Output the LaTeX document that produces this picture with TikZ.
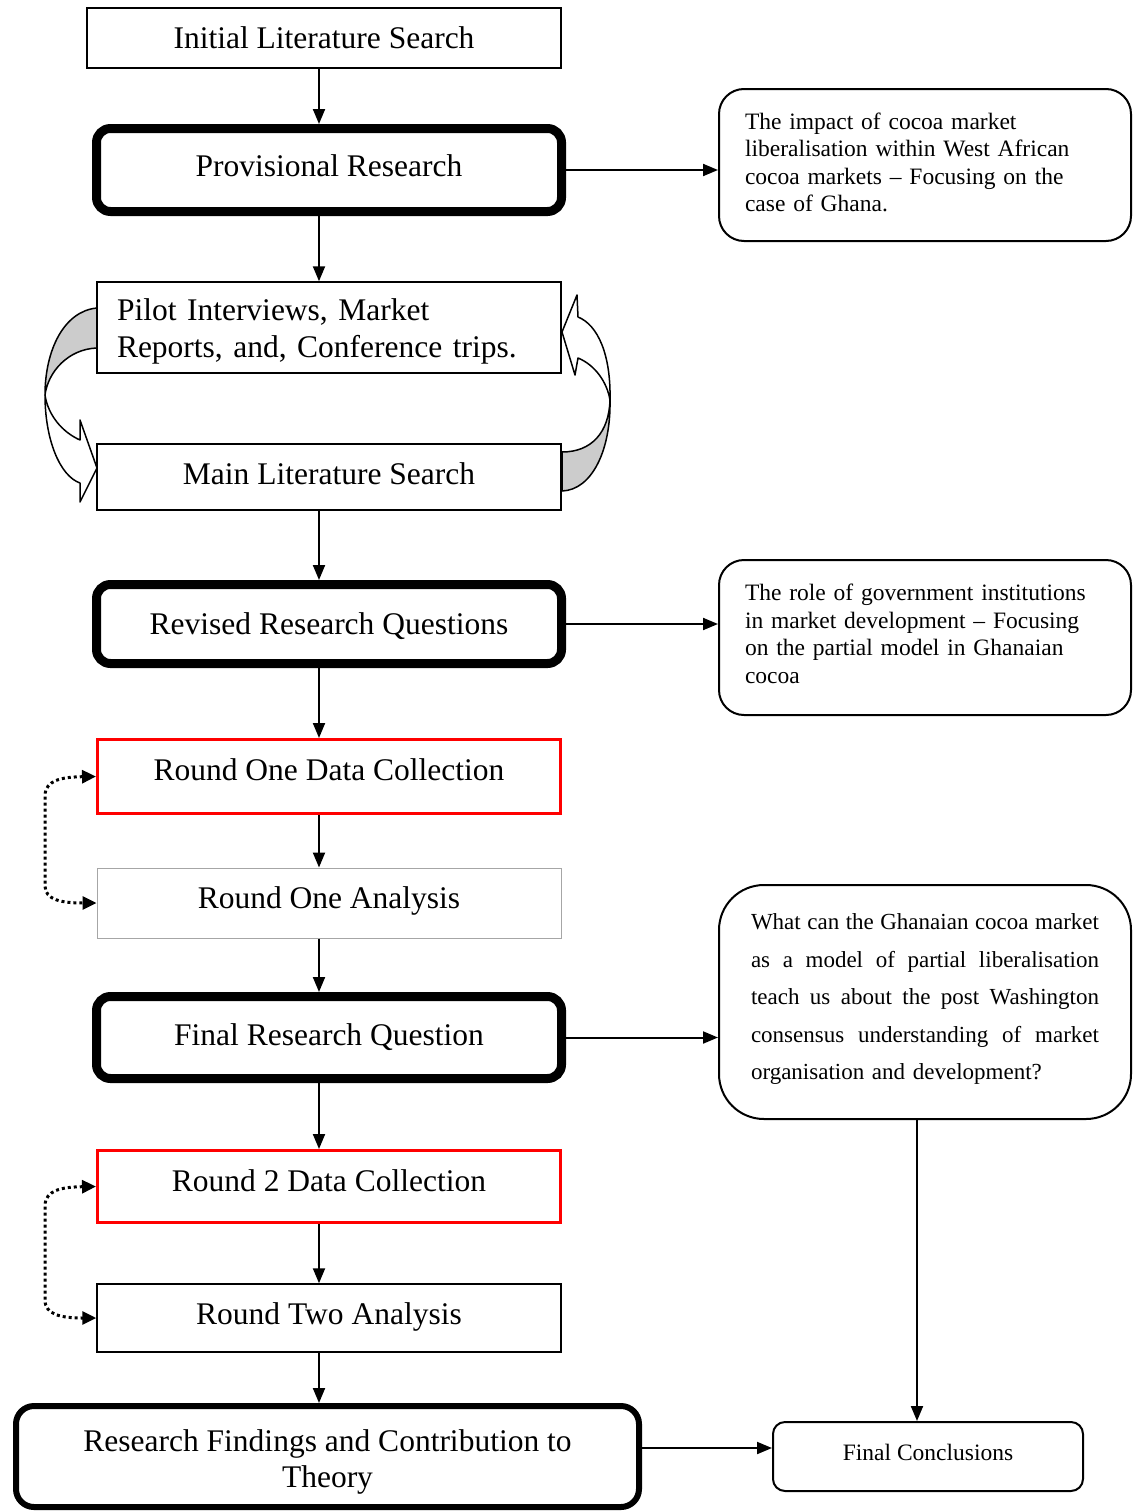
\documentclass[tikz,border=0pt]{standalone}
\usepackage{fontspec}
\setmainfont{Liberation Serif}
\usetikzlibrary{arrows.meta}
% one line of text spread over the full width of a justified block
\newcommand\spreadline[1]{\makebox[348pt][l]{#1}}
\begin{document}
\begin{tikzpicture}[x=1pt,y=-1pt,
  arr/.style={line width=2pt,-{Triangle[length=15pt,width=12pt]}},
  dotarr/.style={line width=3pt,dash pattern=on 3pt off 3pt,
    {Triangle[length=14pt,width=13pt]}-{Triangle[length=14pt,width=13pt]}},
  bigtext/.style={font=\fontsize{31.5}{36}\selectfont,text height=22pt},
  plainbox/.style={draw,line width=1.5pt,inner sep=0pt,bigtext,minimum width=464pt},
  heavybox/.style={draw,line width=9pt,rounded corners=14pt,inner sep=0pt,bigtext,minimum width=465pt},
  redbox/.style={draw=red,line width=3pt,inner sep=0pt,bigtext,minimum width=463pt},
  callout/.style={draw,line width=2pt,rounded corners=25pt,inner sep=0pt,
    font=\fontsize{23.5}{27.5}\selectfont,align=left,minimum width=412pt},
  band/.style={draw,line width=1.5pt,line join=round}
]
\useasboundingbox (0,0) rectangle (1141,1512);

% column of the vertical connectors and the lower right connectors
\coordinate (ax) at (319,0);
\coordinate (fx) at (917,0);
\coordinate (ry) at (0,1448);

% curved block arrows between pilot work and the main literature search
\filldraw[band,fill=gray!40] (97,308) .. controls (64,311) and (45,350) .. (45,395)
  .. controls (48,372) and (68,349) .. (97,348) -- cycle;
\filldraw[band,fill=white] (45,395) .. controls (45,440) and (60,476) .. (80,483)
  -- (80,502) -- (97,468) -- (80,420) -- (80,440)
  .. controls (62,432) and (48,415) .. (45,395) -- cycle;
\filldraw[band,fill=gray!40] (562,452) .. controls (592,452) and (609,432) .. (610,400)
  .. controls (611,450) and (592,490) .. (562,491) -- cycle;
\filldraw[band,fill=white] (610,400) .. controls (611,355) and (598,325) .. (578,317)
  -- (577,295) -- (562,332) -- (575,375) -- (578,358)
  .. controls (595,365) and (607,382) .. (610,400) -- cycle;

% main column
\node[plainbox,minimum width=474pt,minimum height=60pt,text depth=1pt] (init) at (324,38) {Initial Literature Search};
\node[heavybox,minimum height=83pt,text depth=9pt] (prov) at (329,170) {Provisional Research};
\node[plainbox,minimum height=91pt,text width=424pt,align=left,text height=,
  font=\fontsize{31.5}{37}\selectfont] (pilot) at (329,327.5)
  {\rule{0pt}{30pt}Pilot Interviews, Market\\Reports, and, Conference trips.};
\node[plainbox,minimum height=66pt,text depth=7pt] (main) at (329,477) {Main Literature Search};
\node[heavybox,minimum height=79pt,text depth=1pt] (rev) at (329,624) {Revised Research Questions};
\node[redbox,minimum height=74pt,text depth=14pt] (rod) at (329,776.5) {Round One Data Collection};
\node[plainbox,draw=gray!70,line width=1pt,minimum height=70pt,text depth=11pt] (roa) at (329,903) {Round One Analysis};
\node[heavybox,minimum height=82pt,text depth=6pt] (frq) at (329,1037.5) {Final Research Question};
\node[redbox,minimum height=72pt,text depth=12pt] (rd2) at (329,1186.5) {Round 2 Data Collection};
\node[plainbox,minimum height=68pt,text depth=9pt] (rta) at (329,1318) {Round Two Analysis};
\node[heavybox,line width=6pt,rounded corners=18pt,minimum width=623pt,minimum height=101pt,
  align=center,text height=] (rf) at (327.5,1456.5)
  {\rule{0pt}{32pt}Research Findings and Contribution to\\Theory};

% side column
\node[callout,minimum height=152pt,text width=360pt] (c1) at (925,165)
  {The impact of cocoa market\\liberalisation within West African\\cocoa markets -- Focusing on the\\case of Ghana.\rule[-6pt]{0pt}{6pt}};
\node[callout,minimum height=155pt,text width=360pt] (c2) at (925,637.5)
  {The role of government institutions\\in market development -- Focusing\\on the partial model in Ghanaian\\cocoa\rule[-8pt]{0pt}{8pt}};
\node[callout,rounded corners=45pt,minimum height=234pt,text width=348pt,
  font=\fontsize{23}{37.5}\selectfont] (c3) at (925,1002)
  {\spreadline{What\hfill can\hfill the\hfill Ghanaian\hfill cocoa\hfill market}\\
   \spreadline{as\hfill a\hfill model\hfill of\hfill partial\hfill liberalisation}\\
   \spreadline{teach\hfill us\hfill about\hfill the\hfill post\hfill Washington}\\
   \spreadline{consensus\hfill understanding\hfill of\hfill market}\\
   organisation and development?\rule[-10pt]{0pt}{10pt}};
\node[callout,rounded corners=12pt,minimum width=310pt,minimum height=69pt,
  text height=17pt,text depth=10pt] (fc) at (928,1456.5)
  {Final Conclusions};

% vertical connectors
\draw[arr] (init.south -| ax) -- (prov.north -| ax);
\draw[arr] (prov.south -| ax) -- (pilot.north -| ax);
\draw[arr] (main.south -| ax) -- (rev.north -| ax);
\draw[arr] (rev.south -| ax) -- (rod.north -| ax);
\draw[arr] (rod.south -| ax) -- (roa.north -| ax);
\draw[arr] (roa.south -| ax) -- (frq.north -| ax);
\draw[arr] (frq.south -| ax) -- (rd2.north -| ax);
\draw[arr] (rd2.south -| ax) -- (rta.north -| ax);
\draw[arr] (rta.south -| ax) -- (rf.north -| ax);

% horizontal connectors
\draw[arr] (prov.east) -- (c1.west |- prov.east);
\draw[arr] (rev.east) -- (c2.west |- rev.east);
\draw[arr] (frq.east) -- (c3.west |- frq.east);
\draw[arr] (c3.south -| fx) -- (fc.north -| fx);
\draw[arr] (rf.east |- ry) -- (fc.west |- ry);

% dotted loops between collection and analysis
\draw[dotarr] (rod.west) .. controls (62,777) and (45,780) .. (45,796)
  -- (45,886) .. controls (45,900) and (62,903) .. (roa.west);
\draw[dotarr] (rd2.west) .. controls (62,1187) and (45,1190) .. (45,1206)
  -- (45,1300) .. controls (45,1315) and (62,1318) .. (rta.west);
\end{tikzpicture}
\end{document}
